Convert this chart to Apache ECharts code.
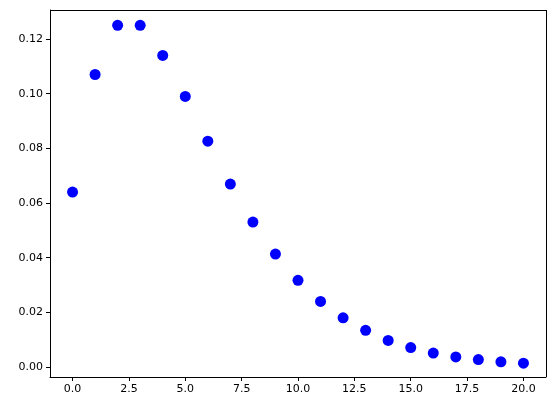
<!DOCTYPE html>
<html><head><meta charset="utf-8">
<script src="https://cdn.jsdelivr.net/npm/echarts@6/dist/echarts.min.js"></script>
<style>html,body{margin:0;padding:0;background:#fff}#c{width:556px;height:413px}</style>
</head><body><div id="c"></div>
<script>
const xValues = [0,1,2,3,4,5,6,7,8,9,10,11,12,13,14,15,16,17,18,19,20];
const yValues = [0.064,0.107,0.125,0.125,0.114,0.099,0.0826,0.0669,0.053,0.0413,0.0317,0.024,0.018,0.0134,0.0097,0.0071,0.0051,0.0037,0.0027,0.0019,0.0014];
const xTicks = [0,2.5,5,7.5,10,12.5,15,17.5,20];
const yTicks = [0,0.02,0.04,0.06,0.08,0.10,0.12];
const chart = echarts.init(document.getElementById('c'));
const axisCommon = {
  axisLine:{show:true,onZero:false,lineStyle:{color:'#000',width:1}},
  axisTick:{show:true,length:4,lineStyle:{color:'#000'}},
  axisLabel:{color:'#000',fontSize:11,fontFamily:'DejaVu Sans'},
  splitLine:{show:false}
};
chart.setOption({
  animation:false,
  grid:{left:50,right:10,top:10,bottom:36},
  xAxis:Object.assign({type:'value',min:-1,max:21},axisCommon,{
    axisTick:Object.assign({},axisCommon.axisTick,{customValues:xTicks}),
    axisLabel:Object.assign({},axisCommon.axisLabel,{customValues:xTicks,margin:7,formatter:v=>v.toFixed(1)})
  }),
  yAxis:Object.assign({type:'value',min:-0.00366,max:0.1306},axisCommon,{
    axisTick:Object.assign({},axisCommon.axisTick,{customValues:yTicks}),
    axisLabel:Object.assign({},axisCommon.axisLabel,{customValues:yTicks,margin:7,formatter:v=>v.toFixed(2)})
  }),
  series:[{type:'scatter',symbolSize:11,itemStyle:{color:'#0000ff',opacity:1},
    data:xValues.map((x,i)=>[x,yValues[i]])},
    {type:'line',data:[],markLine:{silent:true,symbol:'none',label:{show:false},lineStyle:{color:'#000',type:'solid',width:1},
      data:[[{coord:[-1,0.1306]},{coord:[21,0.1306]}],[{coord:[21,-0.00366]},{coord:[21,0.1306]}]]}}]
});
</script></body></html>
